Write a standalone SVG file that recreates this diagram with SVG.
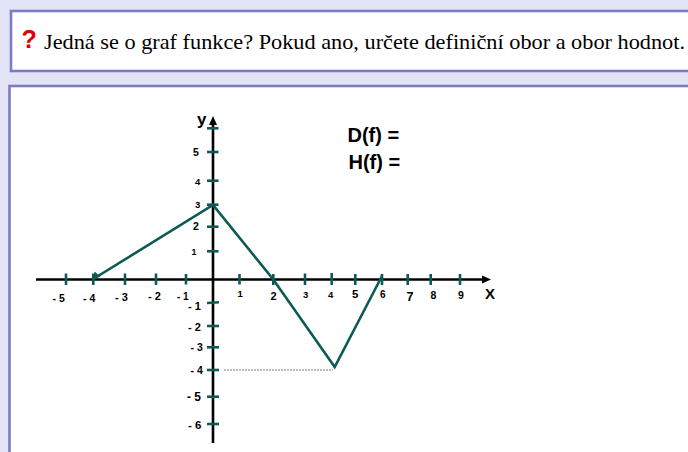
<svg xmlns="http://www.w3.org/2000/svg" width="688" height="452" viewBox="0 0 688 452">
<style>
.frame{fill:#ffffff;stroke:#7c7cc2;stroke-width:2.6}
.axis{stroke:#000;stroke-width:2.6;fill:none}
.tick{stroke:#0d5a55;stroke-width:2.6}
.curve{stroke:#0d5a55;stroke-width:2.6;fill:none;stroke-linejoin:miter}
.num{font-family:"Liberation Sans",Arial,sans-serif;font-weight:bold;fill:#000}
.title{font-family:"Liberation Serif","Times New Roman",serif;font-size:22px;fill:#000}
.big{font-family:"Liberation Sans",Arial,sans-serif;font-weight:bold;font-size:20px;fill:#000}
</style>
<rect x="0" y="0" width="688" height="452" fill="#e4e4f8"/>
<g id="question-box">
<rect class="frame" x="11" y="11" width="690" height="60"/>
<text x="21.5" y="47.5" font-family="Liberation Sans,Arial,sans-serif" font-weight="bold" font-size="25" fill="#e00000">?</text>
<text class="title" x="44" y="48.5" textLength="641" lengthAdjust="spacingAndGlyphs">Jedná se o graf funkce? Pokud ano, určete definiční obor a obor hodnot.</text>
</g>
<g id="graph-box">
<rect class="frame" x="9.5" y="86" width="690" height="380"/>
</g>
<g id="axes">
<line class="axis" x1="36" y1="279.5" x2="484" y2="279.5"/>
<polygon points="491,279.5 482,275.5 482,283.5" fill="#000"/>
<line class="axis" x1="213" y1="443" x2="213" y2="123"/>
<polygon points="213,116 209,125 217,125" fill="#000"/>
</g>
<g id="x-ticks">
<line class="tick" x1="66" y1="273.5" x2="66" y2="285"/>
<line class="tick" x1="93.3" y1="273.5" x2="93.3" y2="285"/>
<line class="tick" x1="125" y1="273.5" x2="125" y2="285"/>
<line class="tick" x1="156" y1="273.5" x2="156" y2="285"/>
<line class="tick" x1="186" y1="274" x2="186" y2="284.5"/>
<line class="tick" x1="239.5" y1="274" x2="239.5" y2="284.5"/>
<line class="tick" x1="273.3" y1="274" x2="273.3" y2="285"/>
<line class="tick" x1="305" y1="273.5" x2="305" y2="285"/>
<line class="tick" x1="331.7" y1="273" x2="331.7" y2="285"/>
<line class="tick" x1="355.3" y1="274" x2="355.3" y2="285"/>
<line class="tick" x1="382" y1="274" x2="382" y2="285"/>
<line class="tick" x1="407.7" y1="274" x2="407.7" y2="285"/>
<line class="tick" x1="430.7" y1="274" x2="430.7" y2="285"/>
<line class="tick" x1="460" y1="274" x2="460" y2="285"/>
</g>
<g id="y-ticks">
<line class="tick" x1="207" y1="128.3" x2="218.5" y2="128.3"/>
<line class="tick" x1="207" y1="152" x2="218.5" y2="152"/>
<line class="tick" x1="207" y1="180.7" x2="218.5" y2="180.7"/>
<line class="tick" x1="207" y1="204.7" x2="218.5" y2="204.7"/>
<line class="tick" x1="207" y1="226.7" x2="218.5" y2="226.7"/>
<line class="tick" x1="207" y1="251.3" x2="218.5" y2="251.3"/>
<line class="tick" x1="207" y1="303" x2="219" y2="302.3"/>
<line class="tick" x1="207" y1="326" x2="219" y2="326"/>
<line class="tick" x1="207" y1="347.3" x2="219" y2="347.3"/>
<line class="tick" x1="207" y1="370" x2="219" y2="370"/>
<line class="tick" x1="207" y1="396.7" x2="219" y2="396.7"/>
<line class="tick" x1="207" y1="424" x2="219" y2="424"/>
</g>
<g id="x-labels" class="num">
<text x="52.5" y="302" font-size="10.5">- 5</text>
<text x="83" y="302" font-size="10.5">- 4</text>
<text x="115" y="301" font-size="11">- 3</text>
<text x="148" y="300" font-size="11">- 2</text>
<text x="177" y="299.5" font-size="10">- 1</text>
<text x="237.5" y="296.5" font-size="9.5">1</text>
<text x="270.5" y="300" font-size="11">2</text>
<text x="303" y="298.3" font-size="9.5">3</text>
<text x="328" y="298.3" font-size="9.5">4</text>
<text x="352" y="298.3" font-size="11.5">5</text>
<text x="380" y="298.3" font-size="10">6</text>
<text x="406.5" y="300.7" font-size="12.5">7</text>
<text x="430.5" y="299" font-size="10.5">8</text>
<text x="458" y="299" font-size="10.5">9</text>
<text x="485" y="298.5" font-size="15">X</text>
</g>
<g id="y-labels" class="num">
<text x="197" y="124.5" font-size="17">y</text>
<text x="193" y="156" font-size="10.5">5</text>
<text x="195" y="184.5" font-size="9.5">4</text>
<text x="195" y="208" font-size="9.5">3</text>
<text x="193" y="230" font-size="10.5">2</text>
<text x="191.5" y="254.5" font-size="9">1</text>
<text x="188" y="310" font-size="11">- 1</text>
<text x="188" y="330.5" font-size="11">- 2</text>
<text x="190.5" y="351" font-size="10.5">- 3</text>
<text x="190.5" y="374.3" font-size="10.5">- 4</text>
<text x="187" y="401" font-size="12">- 5</text>
<text x="188" y="428.5" font-size="11.5">- 6</text>
</g>
<g id="function-graph">
<line x1="224" y1="370" x2="333" y2="370" stroke="#777" stroke-width="1" stroke-dasharray="2,1"/>
<polyline class="curve" points="93.3,279 213,205 273.3,279.5 334.7,367 382,276"/>
<polygon points="93.3,279 94.5,271.5 100.5,276.5" fill="#0d5a55"/>
</g>
<g id="answer-labels" class="big">
<text x="347.5" y="141.7">D(f) =</text>
<text x="348.5" y="169.3">H(f) =</text>
</g>
</svg>
